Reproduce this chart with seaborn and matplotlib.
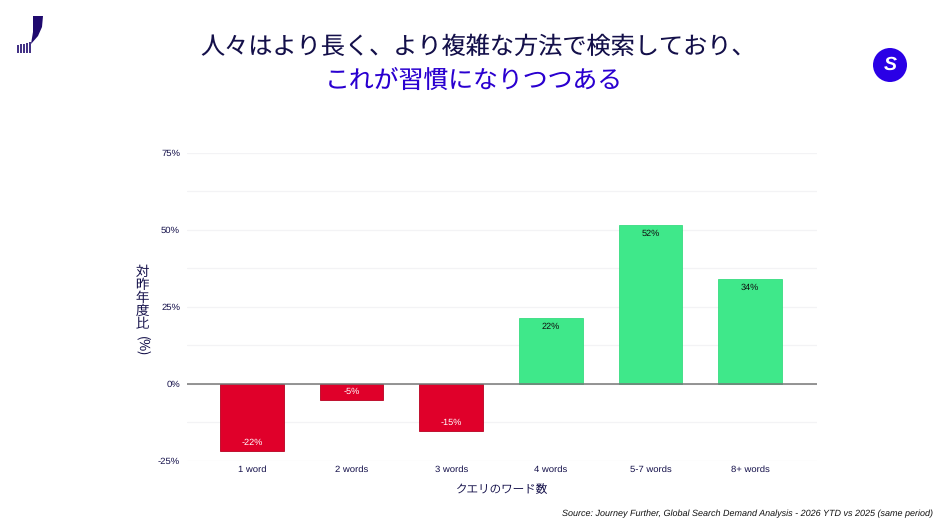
import matplotlib
matplotlib.use('Agg')
import matplotlib.pyplot as plt
from matplotlib.patches import Circle, Polygon
import pandas as pd
import seaborn as sns

categories = ['1 word', '2 words', '3 words', '4 words', '5-7 words', '8+ words']
yoy_change = [-22, -5.3, -15.4, 21.4, 51.6, 34]
value_labels = ['-22%', '-5%', '-15%', '22%', '52%', '34%']
ytick_values = [-25, 0, 25, 50, 75]
ytick_labels = ['-25%', '0%', '25%', '50%', '75%']
grid_values = [-25, -12.5, 12.5, 25, 37.5, 50, 62.5, 75]

NAVY = '#14104a'
BLUE = '#2a00d0'
RED = '#e0002a'
GREEN = '#3fe88a'

sns.set_theme(style='white')
plt.rcParams['font.family'] = ['Liberation Sans', 'Noto Sans CJK JP', 'DejaVu Sans']
plt.rcParams['text.hinting'] = 'no_hinting'

df = pd.DataFrame({'words': categories, 'change': yoy_change})
df['sign'] = ['up' if v > 0 else 'down' for v in yoy_change]

fig = plt.figure(figsize=(9.49, 5.31), dpi=100)
ax = fig.add_axes([187 / 949, 1 - 460.5 / 531, 630 / 949, 307.5 / 531])

sns.barplot(data=df, x='words', y='change', hue='sign', dodge=False, width=0.64, saturation=1,
            palette={'up': GREEN, 'down': RED}, legend=False, ax=ax, zorder=3)
for patch in ax.patches:
    if patch.get_height() != 0:
        edge = '#b8001f' if patch.get_height() < 0 else '#38dc80'
        patch.set_edgecolor(edge)
        patch.set_linewidth(0.6)

ax.set_xlim(-0.65, 5.67)
ax.set_ylim(-25, 75)
ax.set_yticks(ytick_values)
ax.set_yticklabels(ytick_labels)
ax.set_yticks(grid_values, minor=True)
ax.grid(True, axis='y', which='both', color='#f3f3f5', linewidth=0.9, zorder=0)
ax.grid(False, axis='x')
ax.axhline(0, color='#777777', linewidth=1.1, zorder=4)
sns.despine(ax=ax, left=True, bottom=True)
ax.tick_params(axis='x', length=0, labelsize=6.8, colors=NAVY, pad=3.5)
ax.tick_params(axis='y', length=0, labelsize=6.8, colors=NAVY, pad=5, which='major')
ax.tick_params(axis='y', length=0, which='minor')

cjk = ['Noto Sans CJK JP', 'DejaVu Sans']

ax.set_xlabel('クエリのワード数', fontsize=8.3, color=NAVY, labelpad=7, family=cjk, fontweight='light')
ax.set_ylabel('')

# value labels sit just inside the bar ends
for i, (v, lab) in enumerate(zip(yoy_change, value_labels)):
    if v > 0:
        ax.annotate(lab, (i, v), xytext=(0, -3), textcoords='offset points', ha='center', va='top',
                    fontsize=6.6, color='#101010', zorder=5)
    else:
        ax.annotate(lab, (i, v), xytext=(0, 3), textcoords='offset points', ha='center', va='bottom',
                    fontsize=6.6, color='white', zorder=5)

# stacked y axis title
fig.text(142 / 949, 1 - 298 / 531, '対\n昨\n年\n度\n比', fontsize=9.6, color=NAVY, family=cjk,
         fontweight='light', ha='center', va='center', linespacing=0.92)
fig.text(142 / 949, 1 - 346 / 531, '(%)', fontsize=9.6, color=NAVY, family=cjk,
         fontweight='light', ha='center', va='center', rotation=270)

fig.text(478 / 949, 1 - 47 / 531, '人々はより長く、より複雑な方法で検索しており、', fontsize=17.4,
         color=NAVY, family=cjk, ha='center', va='center')
fig.text(474 / 949, 1 - 81 / 531, 'これが習慣になりつつある', fontsize=17.9,
         color=BLUE, family=cjk, ha='center', va='center')
fig.text(933 / 949, 1 - 514 / 531,
         'Source: Journey Further, Global Search Demand Analysis - 2026 YTD vs 2025 (same period)',
         fontsize=6.5, style='italic', color='#111111', ha='right', va='center')

# logos, drawn in pixel space on an overlay axes
overlay = fig.add_axes([0, 0, 1, 1], facecolor='none')
overlay.set_xlim(0, 949)
overlay.set_ylim(531, 0)
overlay.axis('off')
overlay.add_patch(Polygon([(33, 16), (43, 16), (42, 27), (38, 36), (31, 44), (33, 32)],
                          closed=True, color='#1f0a6e', lw=0))
for x0, top in zip([18.5, 21.5, 24.5, 27.5, 30], [44.5, 44, 43.5, 42.5, 41.5]):
    overlay.plot([x0, x0], [top, 53], color='#1f0a6e', lw=1.2, solid_capstyle='butt')
overlay.add_patch(Circle((890, 65), 17, color='#2a00e6', lw=0))
overlay.text(890, 65, 'S', color='white', fontsize=14, fontweight='bold', style='italic',
             ha='center', va='center')

fig.savefig('out.png', dpi=100)
